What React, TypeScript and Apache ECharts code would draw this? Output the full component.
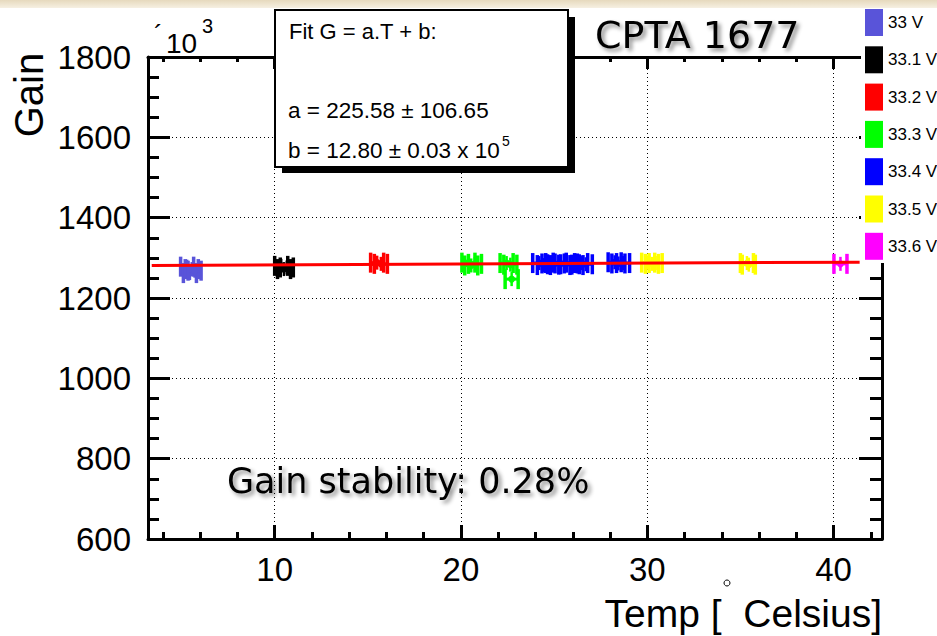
import React, { useEffect, useRef } from 'react';
import * as echarts from 'echarts';

// ---- data ----
const SERIES_NAMES = ['33 V', '33.1 V', '33.2 V', '33.3 V', '33.4 V', '33.5 V', '33.6 V'];
const SERIES_COLORS = ['#5954d9', '#000000', '#ff0000', '#00ff00', '#0000ff', '#ffff00', '#ff00ff'];

// [temperature (C), gain (x10^3)]
const pts330 = [[5.3, 1278], [5.45, 1262], [5.55, 1272], [5.7, 1268]];
const pts331 = [[10.35, 1280], [10.5, 1272], [10.65, 1276]];
const pts332 = [[15.5, 1288], [15.7, 1285]];
const pts333 = [[20.4, 1288], [20.55, 1281], [20.75, 1285], [22.45, 1287], [22.65, 1283], [22.72, 1247]];
const pts334 = [
  [24.2, 1287], [24.45, 1282], [24.7, 1286], [25.0, 1284], [25.3, 1288], [25.6, 1283],
  [25.9, 1286], [26.2, 1282], [26.45, 1287], [26.7, 1284], [28.25, 1289], [28.45, 1286], [28.7, 1287],
];
const pts335 = [[30.05, 1288], [30.25, 1285], [30.45, 1287], [35.35, 1287], [35.45, 1283]];
const pts336 = [[40.37, 1285]];
const SERIES_POINTS = [pts330, pts331, pts332, pts333, pts334, pts335, pts336];

const TEMP_ERR = 0.35; // horizontal error bar half-width (C)
const FIT_LINE = [[3.4, 1280.8], [41.4, 1289.3]];

const X_MIN = 3.2;
const X_MAX = 42.6;
const X_MAJOR = [10, 20, 30, 40];
const X_MINOR = [4, 6, 8, 12, 14, 16, 18, 22, 24, 26, 28, 32, 34, 36, 38, 42];
const Y_MIN = 600;
const Y_MAX = 1800;
const Y_STEP = 200;

const FONT = "'Liberation Sans', Arial, Helvetica, sans-serif";
const COMIC = "'Comic Sans MS', 'DejaVu Sans', sans-serif";

export default function App() {
  const ref = useRef<HTMLDivElement>(null);

  useEffect(() => {
    if (!ref.current) return;
    const chart = echarts.init(ref.current, undefined, { renderer: 'svg' });

    const renderItem = (params: any, api: any) => {
      const t = api.value(0);
      const g = api.value(1);
      const c = api.coord([t, g]);
      const l = api.coord([t - TEMP_ERR, g]);
      const r = api.coord([t + TEMP_ERR, g]);
      const color = api.visual('color');
      const h = 10;
      return {
        type: 'group',
        children: [
          { type: 'line', shape: { x1: l[0], y1: c[1], x2: r[0], y2: c[1] }, style: { stroke: color, lineWidth: 3 } },
          { type: 'line', shape: { x1: l[0], y1: c[1] - h, x2: l[0], y2: c[1] + h }, style: { stroke: color, lineWidth: 3.5 } },
          { type: 'line', shape: { x1: r[0], y1: c[1] - h, x2: r[0], y2: c[1] + h }, style: { stroke: color, lineWidth: 3.5 } },
          { type: 'line', shape: { x1: c[0], y1: c[1] - 7, x2: c[0], y2: c[1] + 7 }, style: { stroke: color, lineWidth: 2.5 } },
          { type: 'circle', shape: { cx: c[0], cy: c[1], r: 3.5 }, style: { fill: color } },
        ],
      };
    };

    const pointSeries = SERIES_NAMES.map((name, i) => ({
      name,
      type: 'custom',
      renderItem,
      data: SERIES_POINTS[i],
      encode: { x: 0, y: 1 },
      itemStyle: { color: SERIES_COLORS[i] },
      xAxisIndex: 0,
      yAxisIndex: 0,
      z: 3,
    }));

    const tick = () => ({ color: '#000000', width: 3 });
    const dotted = () => ({ color: '#000000', width: 1, type: [1, 3] });

    const option: any = {
      animation: false,
      backgroundColor: '#ffffff',
      grid: { left: 148, top: 57, width: 734, height: 482 },
      legend: {
        orient: 'vertical',
        left: 865,
        top: 9,
        padding: 0,
        itemWidth: 18,
        itemHeight: 27,
        itemGap: 10.3,
        icon: 'rect',
        selectedMode: false,
        z: 20,
        data: SERIES_NAMES,
        textStyle: { fontSize: 17, color: '#000', fontFamily: FONT },
      },
      xAxis: [
        {
          type: 'value', position: 'bottom', min: X_MIN, max: X_MAX,
          axisLine: { show: true, onZero: false, lineStyle: { color: '#000', width: 3 } },
          axisTick: { show: true, inside: true, length: 14, customValues: X_MAJOR, lineStyle: tick() },
          axisLabel: { show: true, customValues: X_MAJOR, fontSize: 33, color: '#000', fontFamily: FONT, margin: 14 },
          splitLine: { show: true, lineStyle: dotted() },
        },
        {
          type: 'value', position: 'bottom', min: X_MIN, max: X_MAX,
          axisLine: { show: false, onZero: false },
          axisTick: { show: true, inside: true, length: 7, customValues: X_MINOR, lineStyle: tick() },
          axisLabel: { show: false },
          splitLine: { show: false },
        },
        {
          type: 'value', position: 'top', min: X_MIN, max: X_MAX,
          axisLine: { show: true, onZero: false, lineStyle: { color: '#000', width: 3 } },
          axisTick: { show: true, inside: true, length: 12, customValues: X_MAJOR, lineStyle: tick() },
          axisLabel: { show: false },
          splitLine: { show: false },
        },
        {
          type: 'value', position: 'top', min: X_MIN, max: X_MAX,
          axisLine: { show: false, onZero: false },
          axisTick: { show: true, inside: true, length: 5, customValues: X_MINOR, lineStyle: tick() },
          axisLabel: { show: false },
          splitLine: { show: false },
        },
      ],
      yAxis: [
        {
          type: 'value', position: 'left', min: Y_MIN, max: Y_MAX, interval: Y_STEP,
          axisLine: { show: true, onZero: false, lineStyle: { color: '#000', width: 3 } },
          axisTick: { show: true, inside: true, length: 22, lineStyle: tick() },
          minorTick: { show: true, splitNumber: 4, length: 11, lineStyle: tick() },
          axisLabel: {
            show: true, fontSize: 33, color: '#000', fontFamily: FONT, margin: 17,
            formatter: (v: number) => String(v),
          },
          splitLine: { show: true, lineStyle: dotted() },
        },
        {
          type: 'value', position: 'right', min: Y_MIN, max: Y_MAX, interval: Y_STEP,
          axisLine: { show: true, onZero: false, lineStyle: { color: '#000', width: 3 } },
          axisTick: { show: true, inside: true, length: 23, lineStyle: tick() },
          minorTick: { show: true, splitNumber: 4, length: 12, lineStyle: tick() },
          axisLabel: { show: false },
          splitLine: { show: false },
        },
      ],
      series: [
        ...pointSeries,
        {
          name: 'fit',
          type: 'line',
          data: FIT_LINE,
          symbol: 'none',
          lineStyle: { color: '#ff0000', width: 3 },
          itemStyle: { color: '#ff0000' },
          xAxisIndex: 0,
          yAxisIndex: 0,
          z: 4,
        },
      ],
      graphic: {
        elements: [
          {
            type: 'rect', z: 1,
            shape: { x: 0, y: 0, width: 937, height: 8 },
            style: {
              fill: new echarts.graphic.LinearGradient(0, 0, 0, 1, [
                { offset: 0, color: '#e6d9bd' },
                { offset: 1, color: '#f6f0e2' },
              ]),
            },
          },
          {
            type: 'rect', z: 10,
            shape: { x: 861, y: 8, width: 76, height: 255 },
            style: { fill: '#ffffff' },
          },
          // fit box with shadow
          {
            type: 'rect', z: 10,
            shape: { x: 282, y: 17, width: 293, height: 156 },
            style: { fill: '#000000' },
          },
          {
            type: 'rect', z: 11,
            shape: { x: 275, y: 10, width: 293, height: 157 },
            style: { fill: '#ffffff', stroke: '#000000', lineWidth: 2 },
          },
          {
            type: 'text', z: 12, x: 289, y: 31,
            style: { text: 'Fit G = a.T + b:', fontSize: 22, fontFamily: FONT, fill: '#000', align: 'left', verticalAlign: 'middle' },
          },
          {
            type: 'text', z: 12, x: 288, y: 110,
            style: { text: 'a = 225.58 ± 106.65', fontSize: 22.5, fontFamily: FONT, fill: '#000', align: 'left', verticalAlign: 'middle' },
          },
          {
            type: 'text', z: 12, x: 288, y: 150,
            style: { text: 'b = 12.80 ± 0.03 x 10', fontSize: 22.5, fontFamily: FONT, fill: '#000', align: 'left', verticalAlign: 'middle' },
          },
          {
            type: 'text', z: 12, x: 502, y: 141,
            style: { text: '5', fontSize: 14, fontFamily: FONT, fill: '#000', align: 'left', verticalAlign: 'middle' },
          },
          // exponent label
          {
            type: 'text', z: 12, x: 154, y: 34,
            style: { text: '´', fontSize: 26, fontFamily: FONT, fill: '#000', align: 'left', verticalAlign: 'middle' },
          },
          {
            type: 'text', z: 12, x: 166, y: 43,
            style: { text: '10', fontSize: 28, fontFamily: FONT, fill: '#000', align: 'left', verticalAlign: 'middle' },
          },
          {
            type: 'text', z: 12, x: 202, y: 26,
            style: { text: '3', fontSize: 20, fontFamily: FONT, fill: '#000', align: 'left', verticalAlign: 'middle' },
          },
          // y axis title
          {
            type: 'text', z: 12, x: 29, y: 95, rotation: Math.PI / 2,
            style: { text: 'Gain', fontSize: 40, fontFamily: FONT, fill: '#000', align: 'center', verticalAlign: 'middle' },
          },
          // x axis title
          {
            type: 'text', z: 12, x: 882, y: 613,
            style: { text: 'Temp [  Celsius]', fontSize: 39, fontFamily: FONT, fill: '#000', align: 'right', verticalAlign: 'middle' },
          },
          {
            type: 'circle', z: 12,
            shape: { cx: 727, cy: 583, r: 3 },
            style: { fill: 'none', stroke: '#000', lineWidth: 1 },
          },
          // annotations
          {
            type: 'text', z: 12, x: 595, y: 35,
            style: {
              text: 'CPTA 1677', fontSize: 38, fontFamily: COMIC, fill: '#000', align: 'left', verticalAlign: 'middle',
              textShadowColor: 'rgba(0,0,0,0.45)', textShadowBlur: 4, textShadowOffsetX: 3, textShadowOffsetY: 3,
            },
          },
          {
            type: 'text', z: 12, x: 227, y: 481,
            style: {
              text: 'Gain stability: 0.28%', fontSize: 35, fontFamily: COMIC, fill: '#000', align: 'left', verticalAlign: 'middle',
              textShadowColor: 'rgba(0,0,0,0.45)', textShadowBlur: 4, textShadowOffsetX: 3, textShadowOffsetY: 3,
            },
          },
        ],
      },
    };

    chart.setOption(option);
    return () => {
      chart.dispose();
    };
  }, []);

  return (
    <div
      ref={ref}
      style={{ position: 'fixed', left: 0, top: 0, width: 937, height: 636, background: '#fff' }}
    />
  );
}
